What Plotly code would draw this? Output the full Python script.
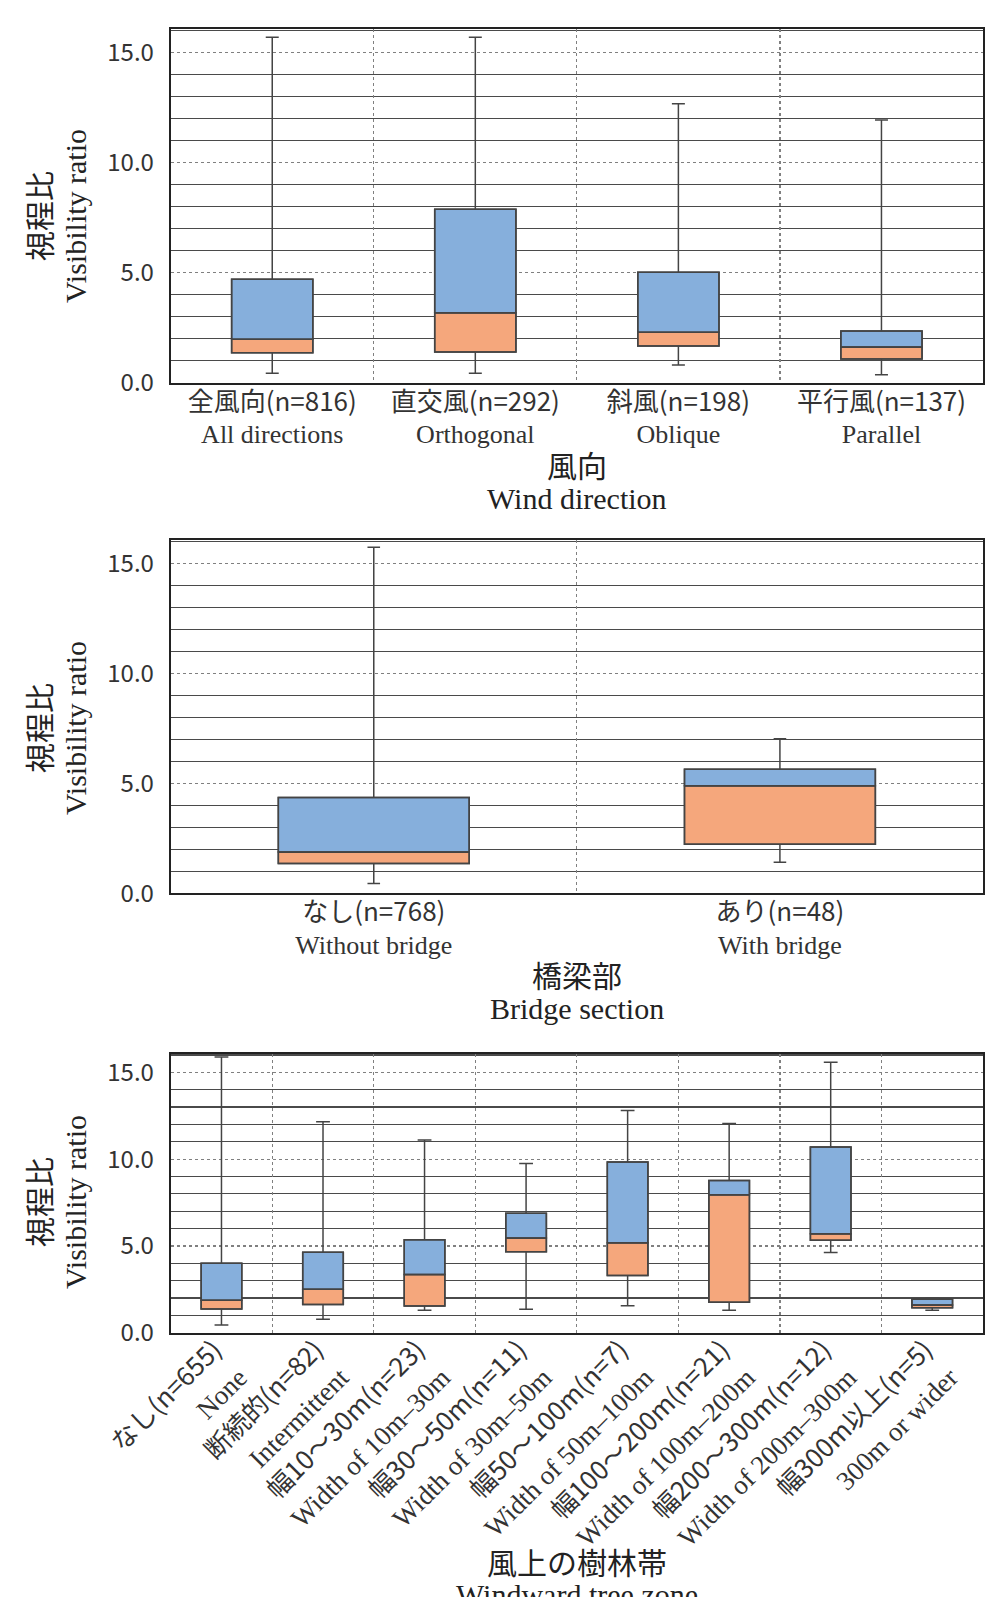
import plotly.graph_objects as go

# ---------------- data ----------------
wind_jp = ["全風向(n=816)", "直交風(n=292)", "斜風(n=198)", "平行風(n=137)"]
wind_en = ["All directions", "Orthogonal", "Oblique", "Parallel"]
wind_low = [0.43, 0.43, 0.80, 0.36]
wind_q1 = [1.36, 1.40, 1.67, 1.08]
wind_med = [1.97, 3.18, 2.29, 1.62]
wind_q3 = [4.70, 7.88, 5.02, 2.35]
wind_high = [15.7, 15.7, 12.68, 11.94]

bridge_jp = ["なし(n=768)", "あり(n=48)"]
bridge_en = ["Without bridge", "With bridge"]
bridge_low = [0.44, 1.41]
bridge_q1 = [1.36, 2.23]
bridge_med = [1.88, 4.89]
bridge_q3 = [4.35, 5.64]
bridge_high = [15.73, 7.03]

tree_jp = ["なし(n=655)", "断続的(n=82)", "幅10〜30m(n=23)", "幅30〜50m(n=11)",
           "幅50〜100m(n=7)", "幅100〜200m(n=21)", "幅200〜300m(n=12)", "幅300m以上(n=5)"]
tree_en = ["None", "Intermittent", "Width of 10m–30m", "Width of 30m–50m",
           "Width of 50m–100m", "Width of 100m–200m", "Width of 200m–300m", "300m or wider"]
tree_low = [0.44, 0.77, 1.29, 1.35, 1.56, 1.29, 4.62, 1.29]
tree_q1 = [1.37, 1.62, 1.54, 4.66, 3.29, 1.75, 5.33, 1.44]
tree_med = [1.87, 2.50, 3.35, 5.45, 5.18, 7.95, 5.70, 1.60]
tree_q3 = [4.00, 4.64, 5.35, 6.89, 9.83, 8.77, 10.70, 1.93]
tree_high = [15.89, 12.16, 11.10, 9.75, 12.81, 12.06, 15.58, 1.98]

# ---------------- style ----------------
W, H = 985, 1597
BLUE = "#86AFDC"
ORANGE = "#F5A77C"
EDGE = "#3a3a3a"
SANS = "Noto Sans CJK JP"
SERIF = "Liberation Serif"
NB = "\u00a0"

def py(px):
    return 1 - px / H

def pxx(px):
    return px / W

panels = [
    dict(jp=wind_jp, en=wind_en, low=wind_low, q1=wind_q1, med=wind_med, q3=wind_q3,
         high=wind_high, top=29.3, bot=382.7, bw=0.40, ww=0.16, angle=0,
         tfs=25, jfs=26, efs=26, so=-4, pad="",
         tjp="風向", ten="Wind direction", tjp_y=464, ten_y=498, ytitle=216),
    dict(jp=bridge_jp, en=bridge_en, low=bridge_low, q1=bridge_q1, med=bridge_med,
         q3=bridge_q3, high=bridge_high, top=540, bot=893.3, bw=0.47, ww=0.066, angle=0,
         tfs=25, jfs=26, efs=26, so=-4, pad="",
         tjp="橋梁部", ten="Bridge section", tjp_y=974, ten_y=1008, ytitle=728),
    dict(jp=tree_jp, en=tree_en, low=tree_low, q1=tree_q1, med=tree_med, q3=tree_q3,
         high=tree_high, top=1054, bot=1332.7, bw=0.40, ww=0.34, angle=-45,
         tfs=29, jfs=26, efs=27, so=-22, pad=NB * 2,
         tjp="風上の樹林帯", ten="Windward tree zone", tjp_y=1561, ten_y=1594, ytitle=1202),
]

fig = go.Figure()
annotations = []
layout = {}
x0, x1 = pxx(170.7), pxx(983)

for i, p in enumerate(panels):
    sfx = "" if i == 0 else str(i + 1)
    xa, ya = "x" + sfx, "y" + sfx
    cats = [f"<span style='font-size:{p['jfs']}px'>{a}{p['pad']}</span><br>"
            f"<span style='font-family:{SERIF};font-size:{p['efs']}px'>{b}{p['pad']}</span>"
            for a, b in zip(p["jp"], p["en"])]
    lower_h = [m - q for m, q in zip(p["med"], p["q1"])]
    upper_h = [q - m for q, m in zip(p["q3"], p["med"])]
    fig.add_trace(go.Bar(x=cats, y=lower_h, base=p["q1"], width=p["bw"], marker_color=ORANGE,
                         marker_line=dict(color=EDGE, width=1.5), xaxis=xa, yaxis=ya,
                         showlegend=False, hoverinfo="skip"))
    fig.add_trace(go.Bar(x=cats, y=upper_h, base=p["med"], width=p["bw"], marker_color=BLUE,
                         marker_line=dict(color=EDGE, width=1.5), xaxis=xa, yaxis=ya,
                         showlegend=False, hoverinfo="skip"))
    fig.add_trace(go.Box(x=cats, q1=p["q1"], median=p["med"], q3=p["q3"],
                         lowerfence=p["low"], upperfence=p["high"], width=p["bw"],
                         whiskerwidth=p["ww"], fillcolor="rgba(0,0,0,0)", boxpoints=False,
                         line=dict(color="#444444", width=1.5), xaxis=xa, yaxis=ya,
                         showlegend=False))
    dom = [py(p["bot"]), py(p["top"])]
    n = len(cats)
    layout["xaxis" + sfx] = dict(
        domain=[x0, x1], anchor=ya, type="category", tickson="boundaries",
        range=[-0.5, n - 0.5], autorange=False, automargin=False,
        showgrid=True, griddash="dot", gridcolor="#808080", gridwidth=1.3,
        showline=True, mirror=True, linecolor="#222222", linewidth=2, ticks="",
        tickangle=p["angle"], tickfont=dict(family=SANS, size=p["tfs"], color="#333333"),
        ticklabelstandoff=p["so"],
    )
    layout["yaxis" + sfx] = dict(
        domain=dom, anchor=xa, range=[0, 16.06], autorange=False, automargin=False,
        dtick=5, tick0=0, tickformat=".1f",
        showgrid=True, griddash="dot", gridcolor="#808080", gridwidth=1.3,
        minor=dict(dtick=1, tick0=0, showgrid=True, griddash="solid", gridcolor="#4a4a4a",
                   gridwidth=1.2, ticks=""),
        zeroline=False, showline=True, mirror=True, linecolor="#222222", linewidth=2,
        ticks="", tickfont=dict(family=SANS, size=24, color="#333333"), ticklabelstandoff=10,
    )
    # axis titles
    cx = pxx(577)
    annotations.append(dict(text=p["tjp"], x=cx, y=py(p["tjp_y"]), xref="paper", yref="paper",
                            showarrow=False, font=dict(family=SANS, size=30, color="#222222"),
                            xanchor="center", yanchor="middle", borderpad=0))
    annotations.append(dict(text=p["ten"], x=cx, y=py(p["ten_y"]), xref="paper", yref="paper",
                            showarrow=False, font=dict(family=SERIF, size=30, color="#222222"),
                            xanchor="center", yanchor="middle", borderpad=0))
    annotations.append(dict(text="視程比", x=pxx(38), y=py(p["ytitle"]), xref="paper", yref="paper",
                            showarrow=False, textangle=-90, font=dict(family=SANS, size=30, color="#222222"),
                            xanchor="center", yanchor="middle", borderpad=0))
    annotations.append(dict(text="Visibility ratio", x=pxx(75), y=py(p["ytitle"]), xref="paper",
                            yref="paper", showarrow=False, textangle=-90,
                            font=dict(family=SERIF, size=30, color="#222222"),
                            xanchor="center", yanchor="middle", borderpad=0))

fig.update_layout(**layout)
fig.update_layout(width=W, height=H, margin=dict(l=0, r=0, t=0, b=0, autoexpand=False),
                  paper_bgcolor="white", plot_bgcolor="white", barmode="overlay",
                  annotations=annotations, font=dict(family=SANS), hovermode=False)
fig.write_html(
    "out.html",
    config={"displayModeBar": False, "staticPlot": True},
    post_script="document.documentElement.style.overflow='hidden';"
                "document.body.style.margin='0px';document.body.style.overflow='hidden';",
)
